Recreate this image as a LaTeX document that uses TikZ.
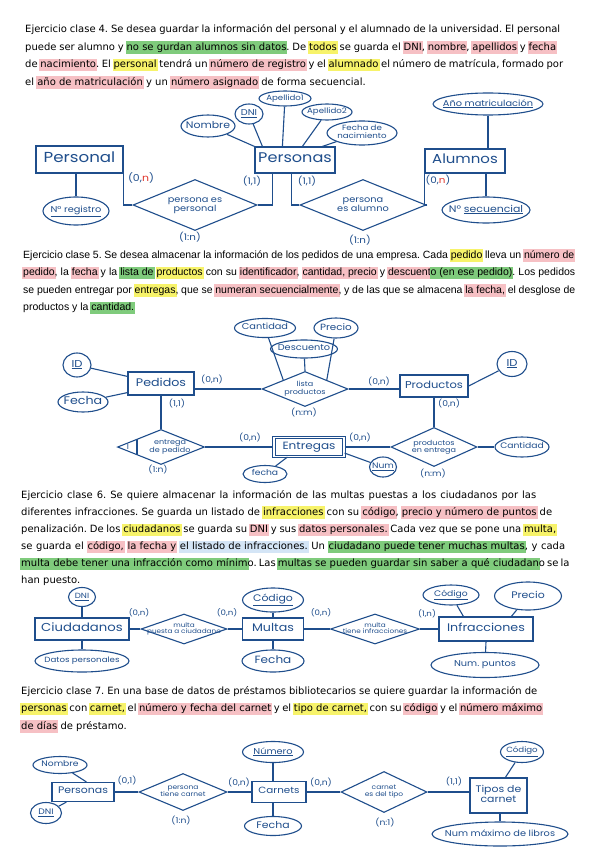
\documentclass[tikz,border=0pt]{standalone}
\usepackage{fontspec}
\setmainfont{Liberation Sans}
\newfontfamily\widefont{DejaVu Sans}
\newfontfamily\handfont{Poppins}[FakeStretch=1.15]
\usetikzlibrary{shapes.geometric}
\definecolor{ink}{HTML}{1F4E8C}
\definecolor{inkred}{HTML}{E0352B}
\definecolor{hlpink}{HTML}{F6C0C4}
\definecolor{hlyellow}{HTML}{F7F36A}
\definecolor{hlgreen}{HTML}{7FCB7C}
\definecolor{hlblue}{HTML}{D4E5F6}
\newcommand{\hlbox}[2]{{\setlength{\fboxsep}{1pt}\kern-1pt\colorbox{#1}{\vrule height 8pt depth 2.5pt width 0pt#2}\kern-1pt}}
\newcommand{\hlp}[1]{\hlbox{hlpink}{#1}}
\newcommand{\hly}[1]{\hlbox{hlyellow}{#1}}
\newcommand{\hlg}[1]{\hlbox{hlgreen}{#1}}
\newcommand{\hlb}[1]{\hlbox{hlblue}{#1}}
\newcommand{\hs}[1]{\handfont\fontsize{#1}{#1}\selectfont}
\newcommand{\zw}[1]{\makebox[0pt]{\begin{tabular}{@{}c@{}}#1\end{tabular}}}
\newcommand{\rn}{\textcolor{inkred}{n}}
\frenchspacing

\begin{document}
\begin{tikzpicture}[x=1pt, y=-1pt,
    txt/.style={anchor=base west, inner sep=0pt, font=\fontsize{10.5}{12}\selectfont},
    txtw/.style={txt, font=\widefont\fontsize{10}{12}\selectfont},
    ent/.style={draw=ink, line width=1.2pt, inner sep=0pt, text=ink},
    attr/.style={ellipse, draw=ink, line width=1.1pt, inner sep=0pt, text=ink},
    rel/.style={diamond, draw=ink, line width=1.1pt, inner sep=0pt, text=ink},
    card/.style={inner sep=0pt, text=ink},
    link/.style={draw=ink, line width=1.1pt},
  ]
  \fill[white] (0,0) rectangle (599,848);
  \useasboundingbox (0,0) rectangle (599,848);

  % Ejercicio clase 4
  \node[txtw] (p1a) at (25,33) {\makebox[535pt][s]{Ejercicio clase 4. Se desea guardar la información del personal y el alumnado de la universidad. El personal}};
  \node[txtw] (p1b) at (25,50.5) {\makebox[531pt][s]{puede ser alumno y \hlg{no se gurdan alumnos sin datos}. De \hly{todos} se guarda el \hlp{DNI}, \hlp{nombre}, \hlp{apellidos} y \hlp{fecha}}};
  \node[txtw] (p1c) at (25,68) {\makebox[538pt][s]{de \hlp{nacimiento}. El \hly{personal} tendrá un \hlp{número de registro} y el \hly{alumnado} el número de matrícula, formado por}};
  \node[txtw] (p1d) at (25,85.5) {el \hlp{año de matriculación} y un \hlp{número asignado} de forma secuencial.};

  \node[ent, minimum width=87, minimum height=27, font=\hs{14.5}] (personal) at (79.5,159.5) {\zw{Personal}};
  \node[ent, minimum width=80, minimum height=26, font=\hs{14}] (personas) at (295,160) {\zw{Personas}};
  \node[ent, minimum width=80, minimum height=24, font=\hs{13}] (alumnos) at (465,161) {\zw{Alumnos}};
  \node[attr, minimum width=54, minimum height=22, font=\hs{9.5}] (nombre) at (208,126) {\zw{Nombre}};
  \node[attr, minimum width=28, minimum height=20, font=\hs{8.5}] (dni) at (249,114) {\zw{\underline{DNI}}};
  \node[attr, minimum width=52, minimum height=15, font=\hs{7.5}] (ape1) at (285,98.5) {\zw{Apellido1}};
  \node[attr, minimum width=50, minimum height=16, font=\hs{7.5}] (ape2) at (327,112) {\zw{Apellido2}};
  \node[attr, minimum width=70, minimum height=24, font=\hs{7.5}] (fecnac) at (362,133) {\zw{Fecha de\\nacimiento}};
  \node[attr, minimum width=110, minimum height=22, font=\hs{8.5}] (anyo) at (488,104) {\zw{\underline{Año matriculación}}};
  \node[attr, minimum width=66, minimum height=28, font=\hs{8.5}] (nreg) at (76,211) {\zw{\underline{N° registro}}};
  \node[attr, minimum width=88, minimum height=26, font=\hs{9.5}] (nsec) at (486,210) {\zw{N° \underline{secuencial}}};
  \node[rel, minimum width=124, minimum height=51, font=\hs{8.5}] (esper) at (195,205) {\zw{persona es\\personal}};
  \node[rel, minimum width=126, minimum height=51, font=\hs{8.5}] (esalu) at (363,205) {\zw{persona\\es alumno}};

  \node[card, font=\hs{9.5}] (c1a) at (141,178) {(0,\rn)};
  \node[card, font=\hs{9}] (c1b) at (190,237) {(1:n)};
  \node[card, font=\hs{9}] (c1c) at (252,181) {(1,1)};
  \node[card, font=\hs{9}] (c1d) at (307,181) {(1,1)};
  \node[card, font=\hs{9}] (c1e) at (360,240) {(1:n)};
  \node[card, font=\hs{9}] (c1f) at (438,180) {(0,\rn)};

  \draw[link] (nombre) -- (personas.north west);
  \draw[link] (dni) -- ([xshift=8pt]personas.north west);
  \draw[link] (ape1) -- ([xshift=28pt]personas.north west);
  \draw[link] (ape2) -- ([xshift=48pt]personas.north west);
  \draw[link] (fecnac) -- ([xshift=68pt]personas.north west);
  \draw[link] (personal.south east) |- (esper.west);
  \draw[link] (esper.east) -| ([xshift=18pt]personas.south west);
  \draw[link] (esalu.west) -| ([xshift=37pt]personas.south west);
  \draw[link] (esalu.east) -| (alumnos.south west);
  \draw[link] (anyo.south) -- (anyo.south |- alumnos.north);
  \draw[link] (nsec.north) -- (nsec.north |- alumnos.south);
  \draw[link] (nreg.north) -- (nreg.north |- personal.south);

  % Ejercicio clase 5
  \node[txt] (p2a) at (23,258) {\makebox[551pt][s]{Ejercicio clase 5. Se desea almacenar la información de los pedidos de una empresa. Cada \hly{pedido} lleva un \hlp{número de}}};
  \node[txt] (p2b) at (23,275.5) {\makebox[552pt][s]{\hlp{pedido}, la \hlp{fecha} y la \hlg{lista de} \hly{productos} con su \hlp{identificador}, \hlp{cantidad, precio} y \hlp{descuent}\hlg{o (en ese pedido)}. Los pedidos}};
  \node[txt] (p2c) at (23,293) {\makebox[552pt][s]{se pueden entregar por \hly{entregas}, que se \hlp{numeran secuencialmente}, y de las que se almacena \hlp{la fecha,} el desglose de}};
  \node[txt] (p2d) at (23,310.5) {productos y la \hlg{cantidad.}};

  \node[ent, minimum width=66, minimum height=23, font=\hs{11}] (pedidos) at (161,383.5) {\zw{Pedidos}};
  \node[ent, minimum width=68, minimum height=22, font=\hs{10}] (productos) at (434,386) {\zw{Productos}};
  \node[ent, double, double distance=1.5pt, minimum width=70, minimum height=19, font=\hs{10.5}] (entregas) at (309,447) {\zw{Entregas}};
  \node[attr, minimum width=28, minimum height=24, font=\hs{10}] (idped) at (77,365) {\zw{\underline{ID}}};
  \node[attr, minimum width=50, minimum height=20, font=\hs{11}] (fechaped) at (83,402) {\zw{Fecha}};
  \node[attr, minimum width=61, minimum height=19, font=\hs{8.5}] (cantlista) at (265,328) {\zw{Cantidad}};
  \node[attr, minimum width=44, minimum height=20, font=\hs{9}] (preciolista) at (336,328) {\zw{Precio}};
  \node[attr, minimum width=67, minimum height=18, font=\hs{8.5}] (desclista) at (304,349) {\zw{Descuento}};
  \node[rel, minimum width=86, minimum height=35, font=\hs{7}] (lista) at (305,389) {\zw{lista\\productos}};
  \node[attr, minimum width=30, minimum height=25, font=\hs{10}] (idprod) at (512,364) {\zw{\underline{ID}}};
  \node[rel, minimum width=86, minimum height=39, font=\hs{7}] (prodent) at (434,447) {\zw{productos\\en entrega}};
  \node[attr, minimum width=54, minimum height=20, font=\hs{8}] (cantent) at (522,447) {\zw{Cantidad}};
  \node[attr, minimum width=27, minimum height=20, font=\hs{8}] (nument) at (383,467) {\zw{\underline{Num}}};
  \node[attr, minimum width=44, minimum height=17, font=\hs{8}] (fechaent) at (265,474) {\zw{fecha}};
  \node[rel, minimum width=87, minimum height=35, font=\hs{7}] (entped) at (161,447) {\zw{\hspace*{18pt}entrega\\\hspace*{18pt}de pedido}};
  \node[card, font=\hs{7.5}] (entpedI) at (128,447) {I};
  \draw[link] ([xshift=20pt,yshift=8pt]entped.west) -- ([xshift=20pt,yshift=-8pt]entped.west);

  \node[card, font=\hs{8}] (c2a) at (212,380) {(0,n)};
  \node[card, font=\hs{8}] (c2b) at (379,382) {(0,n)};
  \node[card, font=\hs{8}] (c2c) at (449,404) {(0,n)};
  \node[card, font=\hs{8}] (c2d) at (304,413) {(n:m)};
  \node[card, font=\hs{8}] (c2e) at (177,404) {(1,1)};
  \node[card, font=\hs{8}] (c2f) at (158,470) {(1:n)};
  \node[card, font=\hs{8}] (c2g) at (250,438) {(0,n)};
  \node[card, font=\hs{8}] (c2h) at (360,438) {(0,n)};
  \node[card, font=\hs{8}] (c2i) at (433,474) {(n:m)};

  \draw[link] (idped) -- ([yshift=-5pt]pedidos.north west);
  \draw[link] (fechaped) -- ([yshift=3pt]pedidos.south west);
  \draw[link] (lista.west) -- (lista.west -| pedidos.east);
  \draw[link] (lista.east) -- (lista.east -| productos.west);
  \draw[link] (cantlista) -- (lista.north west);
  \draw[link] (desclista) -- (lista.north);
  \draw[link] (preciolista) -- (lista.north east);
  \draw[link] (idprod) -- (productos.east);
  \draw[link] (productos.south) -- (prodent.north);
  \draw[link] (prodent.east) -- (cantent);
  \draw[link] (entregas.east) -- (prodent.west);
  \draw[link] (entped.east) -- (entregas.west);
  \draw[link] (pedidos.south) -- (entped.north);
  \draw[link] ([yshift=4pt]entregas.south east) -- (nument);
  \draw[link] (fechaent) -- ([xshift=14pt]entregas.south west);

  % Ejercicio clase 6
  \node[txtw] (p3a) at (21,498) {\makebox[515pt][s]{Ejercicio clase 6. Se quiere almacenar la información de las multas puestas a los ciudadanos por las}};
  \node[txtw] (p3b) at (21,515) {\makebox[531pt][s]{diferentes infracciones. Se guarda un listado de \hly{infracciones} con su \hlp{código}, \hlp{precio y número de puntos} de}};
  \node[txtw] (p3c) at (21,532.5) {\makebox[535pt][s]{penalización. De los \hly{ciudadanos} se guarda su \hlp{DNI} y sus \hlp{datos personales.} Cada vez que se pone una \hly{multa,}}};
  \node[txtw] (p3d) at (21,549.5) {\makebox[544pt][s]{se guarda el \hlp{código,} \hlp{la fecha y} \hlb{el listado de infracciones.} Un \hlg{ciudadano puede tener muchas multas}, y cada}};
  \node[txtw] (p3e) at (21,566.5) {\makebox[544pt][s]{\hlg{multa debe tener una infracción como mínim}o. Las \hlg{multas se pueden guardar sin saber a qué ciudadan}o se la}};
  \node[txtw] (p3f) at (21,583.5) {han puesto.};

  \node[ent, minimum width=94, minimum height=22, font=\hs{11.5}] (ciud) at (82,629) {\zw{Ciudadanos}};
  \node[attr, minimum width=27, minimum height=19, font=\hs{7.5}] (dniciud) at (82,597) {\zw{\underline{DNI}}};
  \node[attr, minimum width=94, minimum height=22, font=\hs{7.5}] (datciud) at (82,661) {\zw{Datos personales}};
  \node[rel, minimum width=86, minimum height=30, font=\hs{6.3}] (puesta) at (184,629) {\zw{multa\\puesta a ciudadano}};
  \node[ent, minimum width=61, minimum height=22, font=\hs{11}] (multas) at (273,629) {\zw{Multas}};
  \node[attr, minimum width=61, minimum height=24, font=\hs{9.5}] (codmulta) at (273,600) {\zw{\underline{Código}}};
  \node[attr, minimum width=62, minimum height=22, font=\hs{10.5}] (fechamulta) at (273,661) {\zw{Fecha}};
  \node[rel, minimum width=89, minimum height=30, font=\hs{6.3}] (tiene) at (375,629) {\zw{multa\\tiene infracciones}};
  \node[ent, minimum width=94, minimum height=24, font=\hs{11}] (infr) at (486,629) {\zw{Infracciones}};
  \node[attr, minimum width=56, minimum height=20, font=\hs{8}] (codinfr) at (451,595) {\zw{\underline{Código}}};
  \node[attr, minimum width=67, minimum height=28, font=\hs{9.5}] (precinfr) at (528,596) {\zw{Precio}};
  \node[attr, minimum width=108, minimum height=25, font=\hs{8.5}] (puntos) at (485,665) {\zw{Num. puntos}};

  \node[card, font=\hs{7.5}] (c3a) at (139,613) {(0,n)};
  \node[card, font=\hs{7.5}] (c3b) at (227,613) {(0,n)};
  \node[card, font=\hs{7.5}] (c3c) at (321,613) {(0,n)};
  \node[card, font=\hs{7.5}] (c3d) at (427,614) {(1,n)};

  \draw[link] (dniciud) -- (ciud.north);
  \draw[link] (ciud.south) -- (datciud);
  \draw[link] (ciud.east) -- (puesta.west);
  \draw[link] (puesta.east) -- (multas.west);
  \draw[link] (codmulta) -- (multas.north);
  \draw[link] (multas.south) -- (fechamulta);
  \draw[link] (multas.east) -- (tiene.west);
  \draw[link] (tiene.east) -- (infr.west);
  \draw[link] (codinfr) -- ([xshift=25pt]infr.north west);
  \draw[link] (precinfr) -- ([xshift=73pt]infr.north west);
  \draw[link] (infr.south) -- (puntos);

  % Ejercicio clase 7
  \node[txtw] (p4a) at (21,694) {\makebox[516pt][s]{Ejercicio clase 7. En una base de datos de préstamos bibliotecarios se quiere guardar la información de}};
  \node[txtw] (p4b) at (21,711.5) {\makebox[521pt][s]{\hly{personas} con \hly{carnet,} el \hlp{número y fecha del carnet} y el \hly{tipo de carnet,} con su \hlp{código} y el \hlp{número máximo}}};
  \node[txtw] (p4c) at (21,729) {\hlp{de días} de préstamo.};

  \node[ent, minimum width=62, minimum height=19, font=\hs{9.5}] (pers) at (83,792) {\zw{Personas}};
  \node[attr, minimum width=54, minimum height=17, font=\hs{8}] (nompers) at (60,765) {\zw{Nombre}};
  \node[attr, minimum width=31, minimum height=21, font=\hs{8}] (dnipers) at (46,813) {\zw{\underline{DNI}}};
  \node[rel, minimum width=88, minimum height=37, font=\hs{6.5}] (tienecarnet) at (183,792) {\zw{persona\\tiene carnet}};
  \node[ent, minimum width=54, minimum height=21, font=\hs{9}] (carnets) at (279,792) {\zw{Carnets}};
  \node[attr, minimum width=61, minimum height=21, font=\hs{8.5}] (numcarnet) at (273,752) {\zw{\underline{Número}}};
  \node[attr, minimum width=57, minimum height=19, font=\hs{9.5}] (fechacarnet) at (273,826) {\zw{Fecha}};
  \node[rel, minimum width=86, minimum height=41, font=\hs{6.5}] (deltipo) at (384,792) {\zw{carnet\\es del tipo}};
  \node[ent, minimum width=57, minimum height=35, font=\hs{9.5}] (tipos) at (498.5,795.5) {\zw{Tipos de\\carnet}};
  \node[attr, minimum width=43, minimum height=21, font=\hs{7.5}] (codtipo) at (522,752) {\zw{\underline{Código}}};
  \node[attr, minimum width=136, minimum height=24, font=\hs{8.5}] (maxlibros) at (500,834) {\zw{Num máximo de libros}};

  \node[card, font=\hs{8}] (c4a) at (127,780) {(0,1)};
  \node[card, font=\hs{8}] (c4b) at (181,820) {(1:n)};
  \node[card, font=\hs{8}] (c4c) at (239,782) {(0,n)};
  \node[card, font=\hs{8}] (c4d) at (321,782) {(0,n)};
  \node[card, font=\hs{8}] (c4e) at (385,822) {(n:1)};
  \node[card, font=\hs{8}] (c4f) at (454,781) {(1,1)};

  \draw[link] (nompers) -- ([xshift=35pt]pers.north west);
  \draw[link] (dnipers) -- ([xshift=15pt]pers.south west);
  \draw[link] (pers.east) -- (tienecarnet.west);
  \draw[link] (tienecarnet.east) -- (carnets.west);
  \draw[link] (numcarnet) -- (numcarnet |- carnets.north);
  \draw[link] (fechacarnet) -- (fechacarnet |- carnets.south);
  \draw[link] (carnets.east) -- (deltipo.west);
  \draw[link] (deltipo.east) -- (deltipo.east -| tipos.west);
  \draw[link] (codtipo) -- ([xshift=36pt]tipos.north west);
  \draw[link] (maxlibros.north) -- (maxlibros.north |- tipos.south);
\end{tikzpicture}
\end{document}
